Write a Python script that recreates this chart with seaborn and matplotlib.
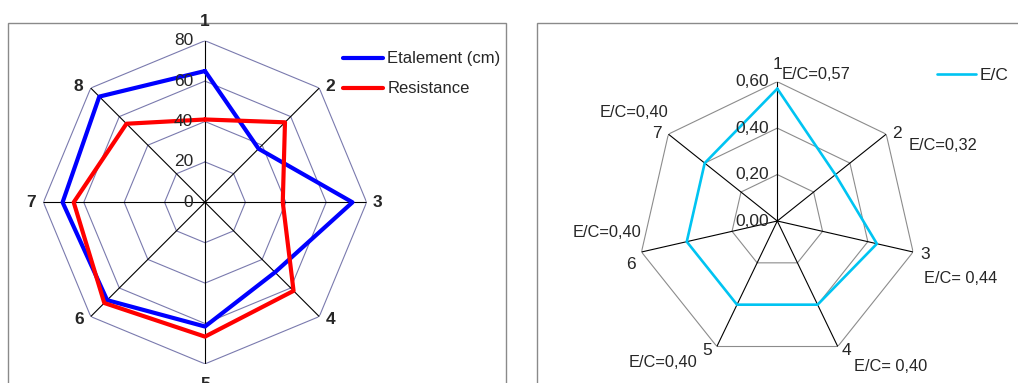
import numpy as np
import matplotlib
matplotlib.use("Agg")
import matplotlib.pyplot as plt
from matplotlib.patches import Rectangle
from matplotlib.lines import Line2D
import seaborn as sns

# ---- data -------------------------------------------------------------
left_categories = ["1", "2", "3", "4", "5", "6", "7", "8"]
etalement_cm = [65, 37.5, 73, 49, 61.5, 68.5, 70.5, 74]
resistance = [41, 56, 38.5, 62, 66.5, 70.5, 65, 55]
left_ticks = [0, 20, 40, 60, 80]

right_categories = ["1", "2", "3", "4", "5", "6", "7"]
ec_ratio = [0.57, 0.32, 0.44, 0.40, 0.40, 0.40, 0.40]
ec_prefix = ["E/C=", "E/C=", "E/C= ", "E/C= ", "E/C=", "E/C=", "E/C="]
right_ticks = [0.00, 0.20, 0.40, 0.60]

# ---- style ------------------------------------------------------------
sns.set_style("white")
plt.rcParams["font.family"] = ["Liberation Sans", "DejaVu Sans"]

W, H = 1018, 383
fig = plt.figure(figsize=(W / 100, H / 100), dpi=100)
PT = 72 / 100  # pixels -> points


def polar_axes(cx, cy, radius):
    rect = [(cx - radius) / W, (H - cy - radius) / H, 2 * radius / W, 2 * radius / H]
    ax = fig.add_axes(rect, projection="polar")
    ax.set_theta_zero_location("N")
    ax.set_theta_direction(-1)
    ax.set_axis_off()
    return ax


def closed(vals):
    return list(vals) + [vals[0]]


def draw_web(ax, n, levels, rmax, ring_color, ring_lw):
    theta = np.linspace(0, 2 * np.pi, n + 1)
    for lv in levels:
        if lv > 0:
            ax.plot(theta, [lv] * (n + 1), color=ring_color, lw=ring_lw, zorder=1)
    for t in theta[:-1]:
        ax.plot([t, t], [0, rmax], color="black", lw=0.8, zorder=1)


# ---- left chart: Etalement / Resistance -------------------------------
axL = polar_axes(205, 202.3, 161.6)
axL.set_ylim(0, 80)
nL = len(left_categories)
thL = np.linspace(0, 2 * np.pi, nL + 1)
draw_web(axL, nL, left_ticks, 80, "#7a7aae", 0.8)

sns.lineplot(x=thL, y=closed(etalement_cm), ax=axL, sort=False, color="#0000ff",
             lw=3.0, estimator=None, zorder=3)
sns.lineplot(x=thL, y=closed(resistance), ax=axL, sort=False, color="#ff0000",
             lw=3.0, estimator=None, zorder=4)
axL.set_xlabel("")
axL.set_ylabel("")

for lv in left_ticks:
    axL.annotate(f"{lv}", xy=(0, lv), xytext=(-12 * PT, 0), textcoords="offset points",
                 ha="right", va="center", fontsize=12.5, zorder=5)

left_offsets = [(0, 19), (11, 2), (11, 0), (11, -3), (0, -21), (-12, -3), (-12, 0), (-12, 2)]
for t, lab, (dx, dy) in zip(thL[:-1], left_categories, left_offsets):
    axL.annotate(lab, xy=(t, 80), xytext=(dx * PT, dy * PT), textcoords="offset points",
                 ha="center", va="center", fontsize=12.5, fontweight="bold",
                 annotation_clip=False)

handlesL = [Line2D([], [], color="#0000ff", lw=3.0), Line2D([], [], color="#ff0000", lw=3.0)]
fig.legend(handlesL, ["Etalement (cm)", "Resistance"], loc="center left",
           bbox_to_anchor=(343 / W, 1 - 73.9 / H), frameon=False, fontsize=12,
           borderpad=0, borderaxespad=0, handlelength=2.4, handletextpad=0.25,
           labelspacing=0.9)

# ---- right chart: E/C ratio -------------------------------------------
axR = polar_axes(777.3, 221, 139.3)
axR.set_ylim(0, 0.6)
nR = len(right_categories)
thR = np.linspace(0, 2 * np.pi, nR + 1)
draw_web(axR, nR, right_ticks, 0.6, "#8c8c8c", 0.8)

sns.lineplot(x=thR, y=closed(ec_ratio), ax=axR, sort=False, color="#00c4f2",
             lw=1.9, estimator=None, zorder=3)
axR.set_xlabel("")
axR.set_ylabel("")

for lv in right_ticks:
    axR.annotate(f"{lv:.2f}".replace(".", ","), xy=(0, lv), xytext=(-8 * PT, 0),
                 textcoords="offset points", ha="right", va="center", fontsize=12.5, zorder=5)

num_offsets = [(0.7, 17), (11, 1), (11.6, -3), (8.7, -4.3), (-9.7, -4.3), (-10.5, -13), (-11, 1)]
for t, lab, (dx, dy) in zip(thR[:-1], right_categories, num_offsets):
    axR.annotate(lab, xy=(t, 0.6), xytext=(dx * PT, dy * PT), textcoords="offset points",
                 ha="center", va="center", fontsize=12.5, annotation_clip=False)

ec_offsets = [("left", 4.7, 7.7), ("left", 22.8, -11), ("left", 11, -26.3),
              ("left", 16.3, -19.5), ("right", -19.6, -16), ("right", -0.2, 19.3),
              ("right", 0, 22)]
for t, v, pre, (ha, dx, dy) in zip(thR[:-1], ec_ratio, ec_prefix, ec_offsets):
    txt = pre + f"{v:.2f}".replace(".", ",")
    axR.annotate(txt, xy=(t, 0.6), xytext=(dx * PT, dy * PT), textcoords="offset points",
                 ha=ha, va="center", fontsize=11.8, annotation_clip=False)

handlesR = [Line2D([], [], color="#00c4f2", lw=1.9)]
fig.legend(handlesR, ["E/C"], loc="center left", bbox_to_anchor=(937 / W, 1 - 75 / H),
           frameon=False, fontsize=12.5, borderpad=0, borderaxespad=0,
           handlelength=2.25, handletextpad=0.2)

# ---- chart frames -----------------------------------------------------
fig.add_artist(Rectangle((8 / W, -0.05), 498 / W, 1 - 23 / H + 0.05,
                         transform=fig.transFigure, fill=False, edgecolor="#8a8a8a",
                         lw=1.0, zorder=0))
fig.add_artist(Rectangle((537 / W, -0.05), 0.6, 1 - 23 / H + 0.05,
                         transform=fig.transFigure, fill=False, edgecolor="#8a8a8a",
                         lw=1.0, zorder=0))

fig.savefig("out.png", dpi=100, facecolor="white")
